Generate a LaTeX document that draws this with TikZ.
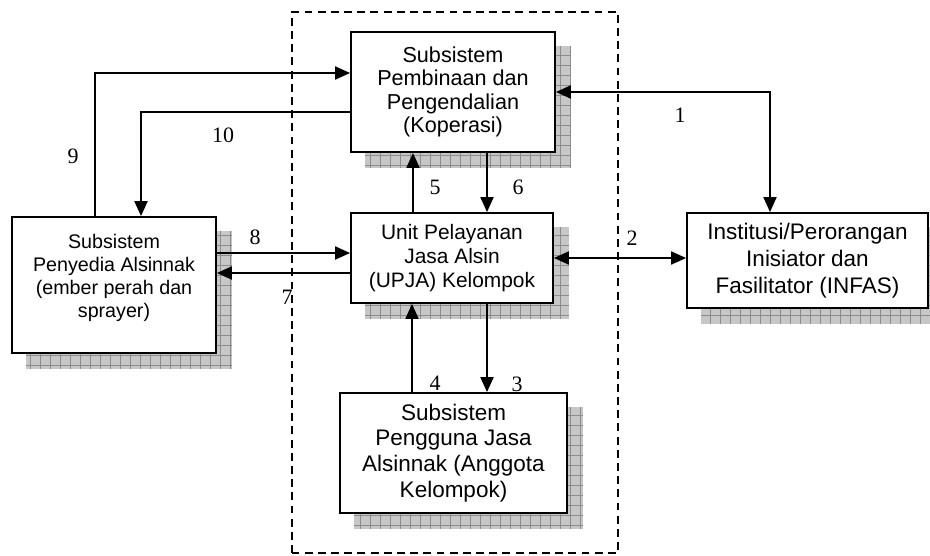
\documentclass[tikz,border=0pt]{standalone}
\usepackage{fontspec}
\setmainfont{Liberation Serif}
\newfontfamily\boxfont{Liberation Sans}
\usetikzlibrary{calc,arrows.meta,backgrounds}

\newcommand{\boxshadow}[1]{%
  \begin{scope}[on background layer]
    \fill[shadowfill] ($(#1.south west)+(0.3,-0.3)$) rectangle ($(#1.north east)+(0.3,-0.3)$);
    \draw[shadowgrid, step=0.2] ($(#1.south west)+(0.3,-0.3)$) grid ($(#1.north east)+(0.3,-0.3)$);
  \end{scope}}

\begin{document}
\begin{tikzpicture}[
    sysbox/.style={draw, line width=1.1pt, fill=white, align=center, inner sep=0pt},
    shadowfill/.style={fill=black!22},
    shadowgrid/.style={draw=black!45, line width=0.5pt},
    arr/.style={line width=0.8pt, -{Triangle[length=8.5pt,width=7.5pt]}},
    arrboth/.style={line width=0.8pt, {Triangle[length=8.5pt,width=7.5pt]}-{Triangle[length=8.5pt,width=7.5pt]}},
    num/.style={font=\fontsize{12.5}{14}\selectfont}
  ]
      \useasboundingbox (0, 0) rectangle (18.6, 11.1);

      \draw[line width=1pt, dash pattern=on 4.5pt off 3pt] (5.84, 0.04) rectangle (12.36, 10.86);

      \node[sysbox, minimum width=4.08cm, minimum height=2.4cm,
        font=\boxfont\fontsize{12.3}{13.3}\selectfont] (pembinaan) at (9.06, 9.26)
        {Subsistem\\Pembinaan dan\\Pengendalian\\(Koperasi)};
      \node[sysbox, minimum width=4.04cm, minimum height=1.8cm,
        font=\boxfont\fontsize{11.9}{13.6}\selectfont] (upja) at (9.04, 5.94)
        {Unit Pelayanan\\Jasa Alsin\\(UPJA) Kelompok};
      \node[sysbox, minimum width=4.08cm, minimum height=2.72cm,
        font=\boxfont\fontsize{11.2}{13}\selectfont] (penyedia) at (2.28, 5.4)
        {Subsistem\\Penyedia Alsinnak\\(ember perah dan\\sprayer)\\[-2.8pt]};
      \node[sysbox, minimum width=4.82cm, minimum height=1.9cm,
        font=\boxfont\fontsize{12.8}{15.3}\selectfont] (infas) at (16.15, 5.89)
        {Institusi/Perorangan\\Inisiator dan\\Fasilitator (INFAS)};
      \node[sysbox, minimum width=4.54cm, minimum height=2.4cm,
        font=\boxfont\fontsize{12.8}{14.7}\selectfont] (pengguna) at (9.07, 2.04)
        {Subsistem\\Pengguna Jasa\\Alsinnak (Anggota\\Kelompok)};

      \boxshadow{pembinaan}
      \boxshadow{upja}
      \boxshadow{penyedia}
      \boxshadow{infas}
      \boxshadow{pengguna}

      \coordinate (c9) at (1.9, 9.64);
      \coordinate (c10) at (2.82, 8.86);
      \coordinate (c8) at (0, 6.04);
      \coordinate (c7) at (0, 5.64);
      \coordinate (c1) at (15.4, 0);
      \coordinate (c5) at (8.26, 0);
      \coordinate (c6) at (9.74, 0);
      \coordinate (c4) at (8.24, 0);
      \coordinate (c3) at (9.74, 0);

      \draw[arr] (penyedia.north -| c9) |- (pembinaan.west |- c9);
      \draw[arr] (pembinaan.west |- c10) -| (penyedia.north -| c10);
      \draw[arr] (penyedia.east |- c8) -- (upja.west |- c8);
      \draw[arr] (upja.west |- c7) -- (penyedia.east |- c7);
      \draw[arrboth] (pembinaan.east) -| (infas.north -| c1);
      \draw[arrboth] (upja.east) -- (upja.east -| infas.west);
      \draw[arr] (upja.north -| c5) -- (pembinaan.south -| c5);
      \draw[arr] (pembinaan.south -| c6) -- (upja.north -| c6);
      \draw[arr] (pengguna.north -| c4) -- (upja.south -| c4);
      \draw[arr] (upja.south -| c3) -- (pengguna.north -| c3);

      \node[num] (n9) at (1.46, 7.98) {9};
      \node[num] (n10) at (4.46, 8.4) {10};
      \node[num] (n8) at (5.1, 6.36) {8};
      \node[num] (n7) at (5.74, 5.16) {7};
      \node[num] (n1) at (13.6, 8.8) {1};
      \node[num] (n2) at (12.64, 6.34) {2};
      \node[num] (n5) at (8.7, 7.36) {5};
      \node[num] (n6) at (10.36, 7.36) {6};
      \node[num] (n4) at (8.7, 3.44) {4};
      \node[num] (n3) at (10.34, 3.42) {3};
\end{tikzpicture}
\end{document}
